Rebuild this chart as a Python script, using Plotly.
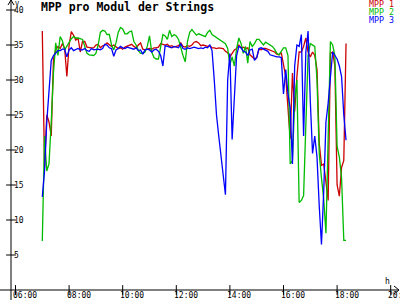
import pandas as pd
import plotly.graph_objects as go

# ---------------- data ----------------
times = pd.date_range("2024-06-01 07:00", periods=137, freq="5min")

mpp1 = [37.0, 17.5, 25.0, 24.0, 22.0, 33.0, 34.3, 34.8, 34.5, 35.2,
        34.5, 30.5, 35.0, 36.9, 36.4, 35.7, 36.0, 34.0, 35.5, 35.5,
        34.7, 34.6, 34.6, 34.6, 35.0, 35.1, 34.6, 34.9, 35.0, 35.3,
        35.0, 34.8, 35.0, 34.7, 34.5, 34.6, 34.4, 34.7, 34.8, 35.0,
        35.1, 34.8, 34.6, 35.0, 35.3, 34.4, 34.3, 34.4, 34.5, 34.4,
        34.6, 34.6, 34.7, 35.2, 35.1, 35.0, 35.1, 34.8, 34.9, 34.7,
        34.8, 34.9, 35.3, 34.8, 34.7, 34.9, 34.8, 35.0, 35.4, 35.5,
        35.3, 34.9, 35.0, 34.9, 34.8, 34.9, 34.6, 34.6, 34.5, 34.6,
        34.5, 34.5, 34.1, 33.9, 33.3, 33.8, 34.3, 34.5, 35.0, 34.6,
        34.7, 34.5, 34.6, 33.6, 33.3, 33.0, 33.2, 34.4, 34.3, 34.5,
        34.5, 34.4, 34.2, 34.1, 34.0, 33.7, 33.6, 33.9, 32.0, 30.5,
        26.0, 21.6, 31.0, 25.5, 30.5, 34.0, 34.0, 34.8, 36.0, 34.0,
        33.3, 34.0, 33.5, 31.5, 21.0, 17.8, 18.0, 15.0, 12.8, 33.8,
        34.0, 32.0, 15.0, 13.4, 17.5, 18.5, 35.2]

mpp2 = [7.0, 22.0, 17.0, 18.0, 24.0, 31.0, 35.3, 33.5, 36.2, 35.6,
        34.3, 34.8, 35.3, 35.9, 36.2, 36.0, 36.0, 35.9, 35.8, 34.8,
        33.8, 33.6, 33.5, 33.5, 33.8, 35.0, 36.8, 37.1, 37.0, 36.5,
        36.5, 35.0, 34.3, 35.3, 36.8, 37.5, 37.3, 36.6, 36.6, 36.9,
        37.0, 35.5, 35.0, 34.2, 33.8, 33.8, 34.0, 34.8, 36.3, 34.0,
        33.2, 33.0, 33.0, 34.5, 36.5, 36.3, 35.8, 37.1, 36.2, 36.5,
        36.3, 35.8, 34.5, 33.5, 32.6, 35.5, 36.8, 37.2, 36.8, 36.4,
        36.6, 36.5, 36.3, 36.2, 36.8, 37.1, 36.5, 36.3, 36.0, 35.8,
        35.6, 35.4, 35.2, 34.5, 32.2, 33.3, 32.0, 34.5, 36.0, 35.2,
        33.8, 34.8, 32.4, 35.5, 34.8, 35.2, 35.8, 35.8, 35.4, 35.0,
        35.4, 35.2, 35.0, 34.8, 34.4, 33.8, 33.6, 34.2, 34.6, 34.6,
        33.5, 18.0, 18.5, 27.0, 30.0, 12.5, 12.8, 13.5, 25.0, 33.5,
        35.2, 35.0, 34.8, 30.0, 19.5, 16.0, 13.0, 8.1, 20.0, 35.5,
        35.0, 33.5, 20.5, 19.0, 16.0, 7.1, 7.1]

mpp3 = [13.3, 17.0, 24.0, 29.0, 32.8, 33.5, 33.8, 34.2, 34.2, 34.4,
        34.4, 33.3, 34.3, 34.6, 34.2, 34.3, 34.5, 34.3, 34.3, 34.5,
        34.2, 34.1, 34.5, 34.3, 34.4, 34.4, 34.3, 34.5, 35.1, 35.0,
        34.6, 34.5, 33.4, 34.3, 34.5, 34.8, 34.6, 34.5, 34.7, 34.6,
        34.5, 34.4, 34.6, 34.2, 34.3, 33.7, 34.3, 34.4, 34.3, 34.0,
        34.3, 34.4, 34.1, 33.5, 32.0, 34.9, 34.8, 34.7, 34.6, 34.8,
        34.7, 34.6, 35.2, 34.5, 34.4, 34.6, 34.5, 34.6, 34.7, 34.6,
        34.5, 34.6, 34.5, 34.7, 34.6, 35.0, 34.2, 30.0, 25.0, 22.0,
        19.0, 15.7, 13.6, 30.0, 33.8, 21.5, 27.0, 33.5, 34.8, 34.6,
        34.1, 34.0, 33.5, 34.3, 34.4, 32.8, 33.2, 34.5, 34.6, 34.4,
        34.2, 34.1, 33.6, 33.5, 33.3, 33.3, 33.3, 33.2, 28.0, 31.5,
        28.0, 26.0, 18.0, 32.0, 35.0, 34.8, 36.5, 22.0, 34.0, 37.0,
        27.0, 19.5, 22.0, 19.0, 12.0, 6.5, 14.0, 24.0, 26.7, 31.0,
        34.0, 33.5, 33.0, 32.0, 30.5, 25.0, 21.4]

series_names = ["MPP 1", "MPP 2", "MPP 3"]
series_colors = ["#cc0000", "#00bb00", "#0000ff"]

x_tick_vals = ["2024-06-01 06:00", "2024-06-01 08:00", "2024-06-01 10:00", "2024-06-01 12:00",
               "2024-06-01 14:00", "2024-06-01 16:00", "2024-06-01 18:00", "2024-06-01 20:00"]
x_tick_text = ["06:00", "08:00", "10:00", "12:00", "14:00", "16:00", "18:00", "20:00"]
y_tick_vals = [5, 10, 15, 20, 25, 30, 35, 40]
y_tick_text = ["5", "10", "15", "20", "25", "30", "35", "40"]

title_text = "MPP pro Modul der Strings"
x_start = "2024-06-01 05:49:55"
x_end = "2024-06-01 20:20:49"

# ---------------- figure ----------------
mono = "DejaVu Sans Mono"
fig = go.Figure()

for vals, name, col in zip([mpp1, mpp2, mpp3], series_names, series_colors):
    fig.add_trace(go.Scatter(x=times, y=vals, mode="lines", name=name,
                             line=dict(color=col, width=1.3),
                             showlegend=False, hoverinfo="skip"))

# tick marks crossing the axes
fig.add_trace(go.Scatter(x=x_tick_vals, y=[0] * len(x_tick_vals), mode="markers",
                         marker=dict(symbol="line-ns", size=7, line=dict(width=1, color="black")),
                         cliponaxis=False, showlegend=False, hoverinfo="skip"))
fig.add_trace(go.Scatter(x=[x_start] * len(y_tick_vals), y=y_tick_vals, mode="markers",
                         marker=dict(symbol="line-ew", size=7, line=dict(width=1, color="black")),
                         cliponaxis=False, showlegend=False, hoverinfo="skip"))

W = 389.0
H = 290.0
def px(x):
    return (x - 11) / W
def py(y):
    return (290 - y) / H

shapes = [
    dict(type="line", xref="paper", yref="paper", x0=px(0), x1=px(399), y0=py(290), y1=py(290),
         line=dict(color="black", width=1)),
    dict(type="line", xref="paper", yref="paper", x0=px(11), x1=px(11), y0=py(300), y1=py(0),
         line=dict(color="black", width=1)),
    dict(type="path", xref="paper", yref="paper",
         path=f"M {px(8)} {py(5)} L {px(11)} {py(0)} L {px(14)} {py(5)}",
         line=dict(color="black", width=1)),
    dict(type="path", xref="paper", yref="paper",
         path=f"M {px(394)} {py(286)} L {px(399)} {py(290)} L {px(394)} {py(294)}",
         line=dict(color="black", width=1)),
]

annotations = [
    dict(text=f"<b>{title_text}</b>", xref="paper", yref="paper", x=px(39), y=py(7),
         xanchor="left", yanchor="middle", showarrow=False,
         font=dict(family=mono, size=11.5, color="black")),
    dict(text="V", xref="paper", yref="paper", x=px(14), y=py(4.5), borderpad=0,
         xanchor="left", yanchor="middle", showarrow=False,
         font=dict(family=mono, size=7, color="black")),
    dict(text="h", xref="paper", yref="paper", x=px(387), y=py(281), borderpad=0,
         xanchor="center", yanchor="middle", showarrow=False,
         font=dict(family=mono, size=8, color="black")),
]
for k, (name, col) in enumerate(zip(series_names, series_colors)):
    annotations.append(dict(text=name, xref="paper", yref="paper", x=px(395), y=py(4.5 + 7.6 * k),
                            xanchor="right", yanchor="middle", showarrow=False, borderpad=0,
                            font=dict(family=mono, size=8.3, color=col)))
# x tick labels, placed at the axis tick values, slightly right of each tick
for tv, tt in zip(x_tick_vals, x_tick_text):
    annotations.append(dict(text=tt, xref="x", yref="paper", x=tv, y=py(295.5),
                            xanchor="left", yanchor="middle", xshift=-3.5, showarrow=False,
                            borderpad=0, font=dict(family=mono, size=8, color="black")))

fig.update_layout(
    width=400, height=300,
    margin=dict(l=11, r=0, t=0, b=10, pad=0),
    paper_bgcolor="white", plot_bgcolor="white",
    shapes=shapes, annotations=annotations,
    xaxis=dict(type="date", range=[x_start, x_end], tickvals=x_tick_vals,
               showticklabels=False, ticks="", showgrid=False, zeroline=False, showline=False,
               fixedrange=True),
    yaxis=dict(range=[0, 41.43], tickvals=y_tick_vals, ticktext=y_tick_text,
               ticklabelposition="inside", ticks="", showgrid=False, zeroline=False,
               showline=False, tickfont=dict(family=mono, size=8, color="black"),
               fixedrange=True),
    showlegend=False,
)

fig.write_html("out.html")
